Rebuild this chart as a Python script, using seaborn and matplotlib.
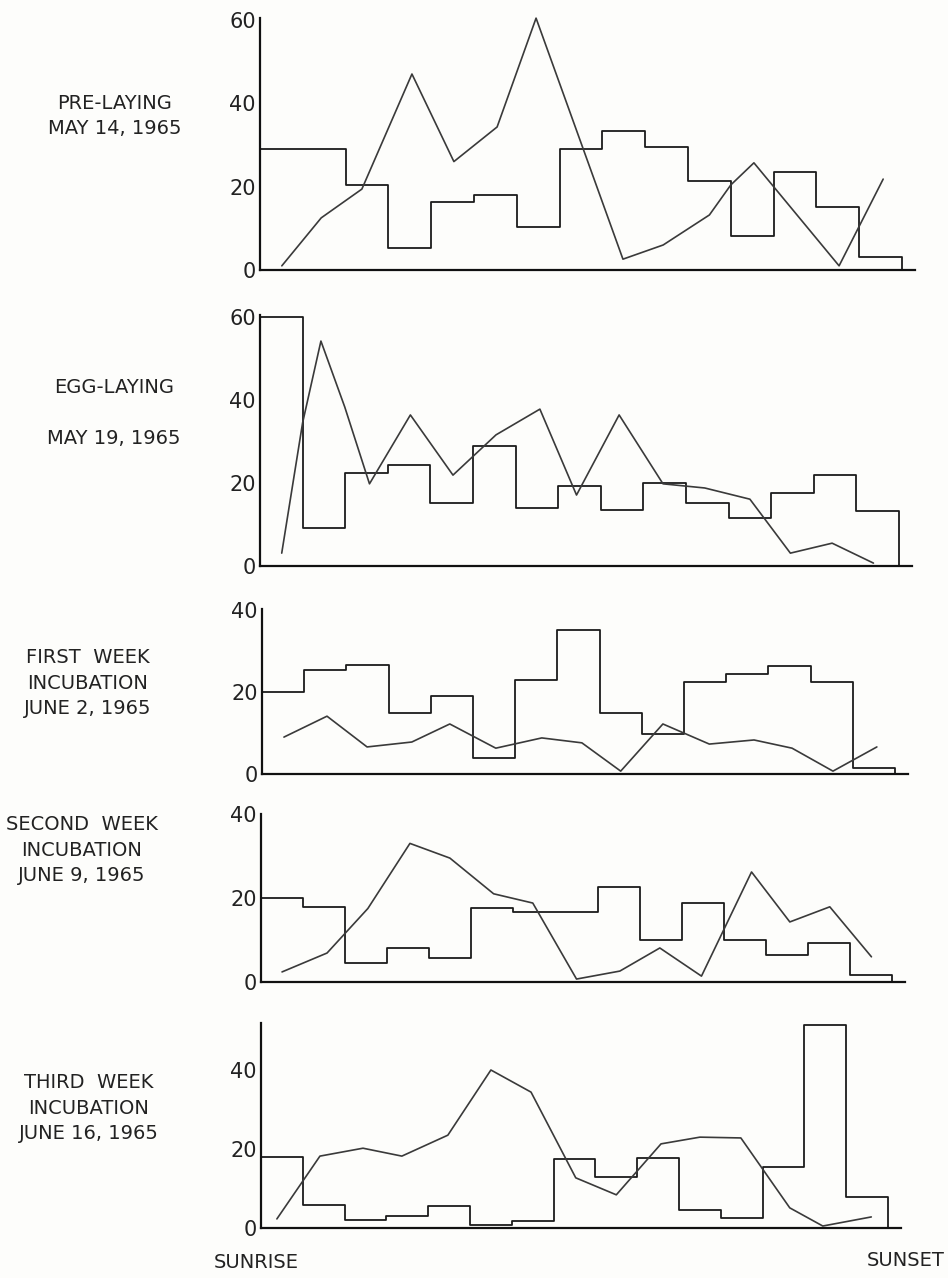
import numpy as np
import pandas as pd
import matplotlib
matplotlib.use("Agg")
import matplotlib.pyplot as plt
import seaborn as sns

# ---------------- data ----------------
labels = [
    "PRE-LAYING\nMAY 14, 1965",
    "EGG-LAYING\n\nMAY 19, 1965",
    "FIRST  WEEK\nINCUBATION\nJUNE 2, 1965",
    "SECOND  WEEK\nINCUBATION\nJUNE 9, 1965",
    "THIRD  WEEK\nINCUBATION\nJUNE 16, 1965",
]

# step (histogram) heights for the 15 intervals sunrise -> sunset
p1_steps = [29, 29, 20.4, 5.3, 16.3, 18, 10.3, 29, 33.3, 29.5, 21.3, 8.2, 23.5, 15, 3]
p2_steps = [60, 9.1, 22.4, 24.3, 15.2, 28.9, 14, 19.3, 13.5, 20, 15.2, 11.6, 17.6, 22, 13.3]
p3_steps = [20, 25.4, 26.6, 14.9, 19, 3.9, 22.9, 35.1, 14.9, 9.8, 22.4, 24.4, 26.3, 22.4, 1.5]
p4_steps = [20, 17.9, 4.5, 8.1, 5.7, 17.6, 16.7, 16.7, 22.6, 10, 18.8, 10, 6.4, 9.3, 1.7]
p5_steps = [18, 5.8, 2, 3, 5.6, 0.8, 1.8, 17.5, 12.9, 17.7, 4.6, 2.5, 15.4, 51.4, 7.8]

# polyline series
p1_line_x = [0.51, 1.43, 2.38, 3.55, 4.53, 5.54, 6.45, 8.48, 9.42, 10.5, 11.0, 11.54, 13.53, 14.56]
p1_line_y = [1, 12.5, 19.4, 47, 26, 34.3, 60.4, 2.6, 6, 13.2, 20.4, 25.7, 1, 21.8]
p2_line_x = [0.51, 1.0, 1.43, 1.99, 2.57, 3.53, 4.53, 5.54, 6.57, 7.43, 8.43, 9.46, 10.44, 11.5, 12.45, 13.43, 14.4]
p2_line_y = [3.1, 34.5, 54.2, 38.3, 19.8, 36.4, 21.9, 31.6, 37.8, 17.1, 36.4, 19.8, 18.8, 16.1, 3.1, 5.5, 0.7]
p3_line_x = [0.52, 1.54, 2.49, 3.55, 4.45, 5.54, 6.63, 7.58, 8.5, 9.5, 10.6, 11.66, 12.56, 13.53, 14.57]
p3_line_y = [9, 14.1, 6.6, 7.8, 12.2, 6.3, 8.8, 7.6, 0.7, 12.2, 7.3, 8.3, 6.3, 0.7, 6.6]
p4_line_x = [0.5, 1.57, 2.54, 3.54, 4.49, 5.53, 6.46, 7.5, 8.53, 9.48, 10.47, 11.66, 12.57, 13.52, 14.51]
p4_line_y = [2.4, 6.9, 17.5, 33, 29.5, 21, 18.8, 0.7, 2.6, 8.1, 1.4, 26.2, 14.3, 17.9, 6]
p5_line_x = [0.38, 1.41, 2.44, 3.37, 4.47, 5.5, 6.46, 7.53, 8.5, 9.57, 10.5, 11.48, 12.65, 13.44, 14.6]
p5_line_y = [2.3, 18.2, 20.2, 18.2, 23.5, 40, 34.4, 12.7, 8.4, 21.3, 23, 22.8, 5.1, 0.5, 2.8]

yticks = [[0, 20, 40, 60], [0, 20, 40, 60], [0, 20, 40], [0, 20, 40], [0, 20, 40]]

# ---------------- layout (pixels of a 948x1278 canvas) ----------------
W, H = 948, 1278
# (left px, bin width px, baseline px, px per unit, ymax)
geom = [
    (260, 42.8, 270, 4.17, 60.5),
    (260, 42.6, 566, 4.15, 60.5),
    (262, 42.2, 774, 4.10, 40.3),
    (261, 42.07, 982, 4.20, 40.0),
    (261, 41.8, 1228, 3.95, 52.0),
]
XMAX = 15.3
label_pos = [(115, 116), (114, 413), (88, 683), (82, 850), (89, 1108)]

sns.set_style("white")
plt.rcParams["font.family"] = ["DejaVu Sans"]

fig = plt.figure(figsize=(W / 100, H / 100), dpi=100)
fig.patch.set_facecolor("#fdfdfb")

steps_all = [p1_steps, p2_steps, p3_steps, p4_steps, p5_steps]
lines_all = [(p1_line_x, p1_line_y), (p2_line_x, p2_line_y), (p3_line_x, p3_line_y),
             (p4_line_x, p4_line_y), (p5_line_x, p5_line_y)]

for i in range(5):
    left, bw, base, ppu, ymax = geom[i]
    width = XMAX * bw
    height = ymax * ppu
    ax = fig.add_axes([left / W, (H - base) / H, width / W, height / H])
    ax.set_facecolor("none")

    st = steps_all[i]
    edges = list(range(len(st) + 1)) + [len(st)]
    vals = list(st) + [st[-1], 0]
    df_s = pd.DataFrame({"x": edges, "y": vals})
    sns.lineplot(data=df_s, x="x", y="y", ax=ax, sort=False, estimator=None,
                 drawstyle="steps-post", color="#1c1c1c", lw=1.3, clip_on=False)

    lx, ly = lines_all[i]
    df_l = pd.DataFrame({"x": lx, "y": ly})
    sns.lineplot(data=df_l, x="x", y="y", ax=ax, sort=False, estimator=None,
                 color="#3a3a3a", lw=1.2, clip_on=False)

    ax.set_xlim(0, XMAX)
    ax.set_ylim(0, ymax)
    ax.set_xticks([])
    ax.set_yticks(yticks[i])
    ax.set_yticklabels([str(t) for t in yticks[i]])
    ax.tick_params(axis="y", length=0, pad=3, labelsize=15, labelcolor="#222222")
    ax.set_xlabel("")
    ax.set_ylabel("")
    for s in ["top", "right"]:
        ax.spines[s].set_visible(False)
    for s in ["left", "bottom"]:
        ax.spines[s].set_color("#111111")
        ax.spines[s].set_linewidth(1.6)

    lxp, lyp = label_pos[i]
    fig.text(lxp / W, 1 - lyp / H, labels[i], ha="center", va="center",
             fontsize=14, color="#222222", linespacing=1.45)

fig.text(256 / W, 1 - 1262 / H, "SUNRISE", ha="center", va="center", fontsize=14, color="#222222")
fig.text(906 / W, 1 - 1260 / H, "SUNSET", ha="center", va="center", fontsize=14, color="#222222")

fig.savefig("out.png", dpi=100, facecolor=fig.get_facecolor())
